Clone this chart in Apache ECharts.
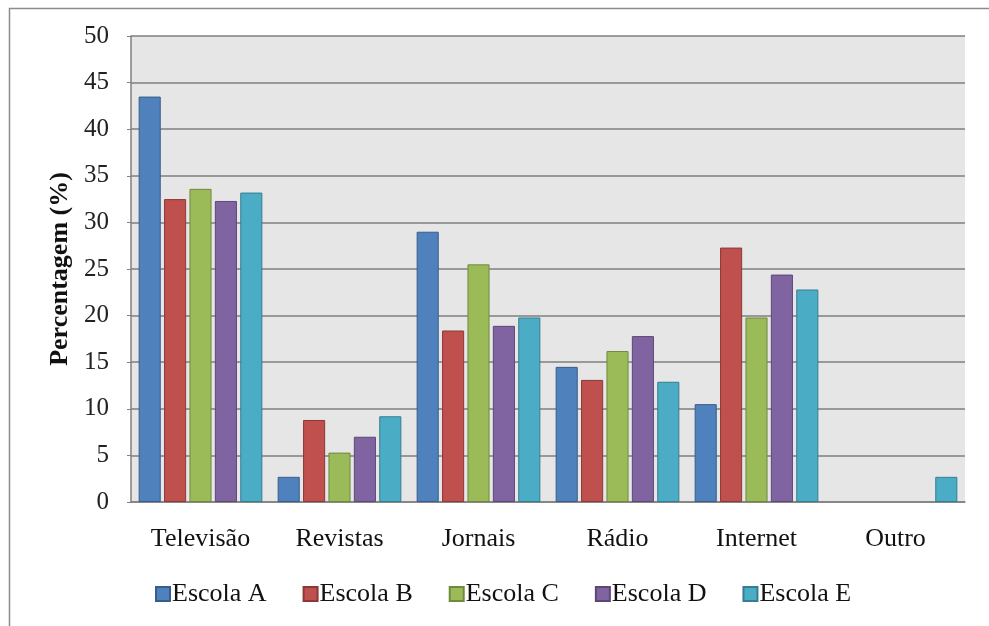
<!DOCTYPE html>
<html>
<head>
<meta charset="utf-8">
<script src="https://cdn.jsdelivr.net/npm/echarts@6/dist/echarts.min.js"></script>
<style>
  html, body { margin: 0; padding: 0; background: #fff; }
  #chart { width: 989px; height: 626px; }
</style>
</head>
<body>
<div id="chart"></div>
<script>
var categories = ['Televisão', 'Revistas', 'Jornais', 'Rádio', 'Internet', 'Outro'];
var escolaA = [43.5, 2.7, 29.0, 14.5, 10.5, 0];
var escolaB = [32.5, 8.8, 18.4, 13.1, 27.3, 0];
var escolaC = [33.6, 5.3, 25.5, 16.2, 19.8, 0];
var escolaD = [32.3, 7.0, 18.9, 17.8, 24.4, 0];
var escolaE = [33.2, 9.2, 19.8, 12.9, 22.8, 2.7];

var seriesNames = ['Escola A', 'Escola B', 'Escola C', 'Escola D', 'Escola E'];
var seriesData = [escolaA, escolaB, escolaC, escolaD, escolaE];
var colors = ['#4F81BD', '#C0504D', '#9BBB59', '#8064A2', '#4BACC6'];
var borders = ['#385d8a', '#8c3836', '#71893f', '#5c4776', '#357d91'];

var font = '"Liberation Serif", "Times New Roman", serif';

var chart = echarts.init(document.getElementById('chart'));

var option = {
  backgroundColor: '#fff',
  animation: false,
  graphic: [{
    type: 'rect',
    left: 7, top: 6,
    shape: { width: 1000, height: 640 },
    style: { fill: 'none', stroke: '#8c8c8c', lineWidth: 1.5 },
    silent: true
  }],
  grid: {
    left: 131, top: 36, right: 24, bottom: 124,
    show: true,
    backgroundColor: '#e6e6e6',
    borderWidth: 0
  },
  legend: {
    data: seriesNames,
    left: 150,
    top: 576,
    itemWidth: 14,
    itemHeight: 14,
    itemGap: 36,
    icon: 'rect',
    textStyle: { fontFamily: font, fontSize: 26, color: '#111', padding: [0, 0, 0, -3] }
  },
  xAxis: {
    type: 'category',
    data: categories,
    axisLine: { lineStyle: { color: '#808080', width: 1.5 } },
    axisTick: { show: false },
    axisLabel: { fontFamily: font, fontSize: 26, color: '#111', margin: 24 }
  },
  yAxis: {
    type: 'value',
    min: 0, max: 50, interval: 5,
    name: 'Percentagem (%)',
    nameLocation: 'middle',
    nameGap: 58,
    nameTextStyle: { fontFamily: font, fontSize: 26, fontWeight: 'bold', color: '#111' },
    axisLine: { show: true, lineStyle: { color: '#808080', width: 1.5 } },
    axisTick: { show: true, inside: false, length: 4, lineStyle: { color: '#808080' } },
    axisLabel: { fontFamily: font, fontSize: 25, color: '#222', margin: 22 },
    splitLine: { lineStyle: { color: '#7f7f7f', width: 1.5 } }
  },
  series: seriesNames.map(function (name, i) {
    return {
      name: name,
      type: 'bar',
      // zero values get no outline, as in the original
      data: seriesData[i].map(function (v) {
        return v === 0 ? { value: v, itemStyle: { borderWidth: 0 } } : v;
      }),
      barGap: '15%',
      barCategoryGap: '11%',
      itemStyle: { color: colors[i], borderColor: borders[i], borderWidth: 1 }
    };
  })
};

chart.setOption(option);
</script>
</body>
</html>
